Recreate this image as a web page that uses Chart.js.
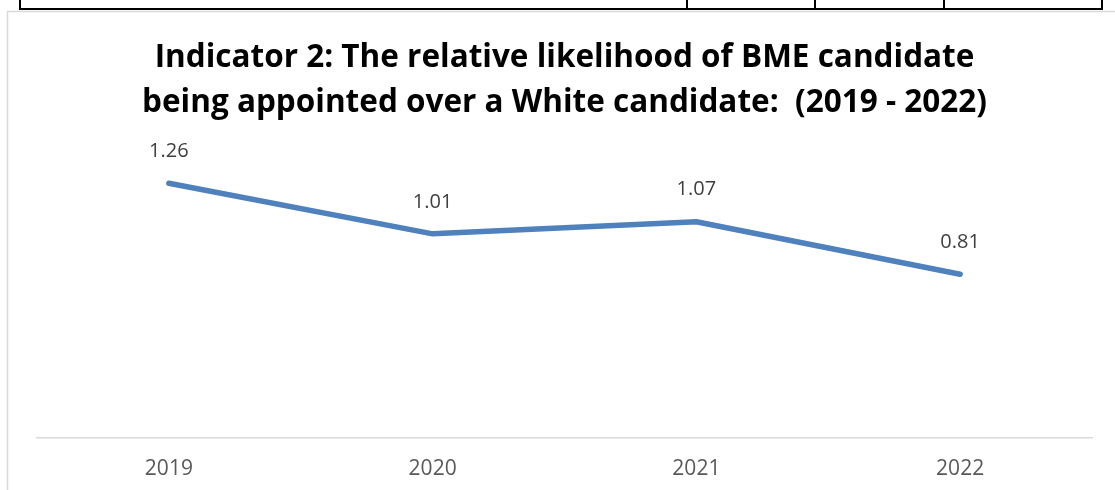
<!DOCTYPE html>
<html>
<head>
<meta charset="utf-8">
<script src="https://cdn.jsdelivr.net/npm/chart.js@4.4.1/dist/chart.umd.min.js"></script>
<style>
  html, body { margin: 0; padding: 0; background: #fff; }
  #wrap { position: relative; width: 1115px; height: 490px; overflow: hidden; }
  canvas { display: block; }
</style>
</head>
<body>
<div id="wrap"><canvas id="chart" width="1115" height="490"></canvas></div>
<script>
const years = ['2019', '2020', '2021', '2022']
const likelihood = [1.26, 1.01, 1.07, 0.81]
const titleLines = [
  'Indicator 2: The relative likelihood of BME candidate',
  'being appointed over a White candidate:  (2019 - 2022)',
]

const LABEL_COLOUR = '#595959'
const LINE_COLOUR = '#4f81bd'
const FONT = '"Open Sans", sans-serif'

// table row above the chart plus the chart's own light border
const framePlugin = {
  id: 'frame',
  beforeDraw(chart) {
    const { ctx } = chart
    ctx.save()
    ctx.strokeStyle = '#d9d9d9'
    ctx.lineWidth = 1.5
    ctx.beginPath()
    ctx.moveTo(7.5, 500)
    ctx.lineTo(7.5, 11.5)
    ctx.lineTo(1120, 11.5)
    ctx.stroke()

    ctx.strokeStyle = '#000'
    ctx.lineWidth = 2
    ctx.beginPath()
    ctx.moveTo(20, -2)
    ctx.lineTo(20, 9)
    ctx.lineTo(1102, 9)
    ctx.lineTo(1102, -2)
    ;[687, 815, 944].forEach((x) => {
      ctx.moveTo(x, -2)
      ctx.lineTo(x, 9)
    })
    ctx.stroke()
    ctx.restore()
  },
}

// value above each point
const valueLabels = {
  id: 'valueLabels',
  afterDatasetsDraw(chart) {
    const { ctx } = chart
    const meta = chart.getDatasetMeta(0)
    ctx.save()
    ctx.fillStyle = '#404040'
    ctx.font = `20px ${FONT}`
    ctx.textAlign = 'center'
    ctx.textBaseline = 'middle'
    meta.data.forEach((pt, i) => {
      ctx.fillText(likelihood[i].toFixed(2), pt.x, pt.y - 32)
    })
    ctx.restore()
  },
}

new Chart(document.getElementById('chart'), {
  type: 'line',
  data: {
    labels: years,
    datasets: [
      {
        data: likelihood,
        borderColor: LINE_COLOUR,
        borderWidth: 5.5,
        pointRadius: 0,
        tension: 0,
        borderCapStyle: 'round',
        borderJoinStyle: 'round',
      },
    ],
  },
  options: {
    responsive: false,
    animation: false,
    layout: {
      padding: { left: 37, right: 23, top: 0, bottom: 0 },
    },
    plugins: {
      legend: { display: false },
      tooltip: { enabled: false },
      title: {
        display: true,
        text: titleLines,
        color: '#000',
        font: { family: FONT, size: 31.5, weight: 'bold', lineHeight: 45 / 31.5 },
        padding: { top: 36, bottom: 29 },
      },
    },
    scales: {
      x: {
        offset: true,
        grid: { display: false, drawTicks: false },
        border: { display: true, color: '#d9d9d9', width: 1.5 },
        ticks: { color: LABEL_COLOUR, font: { family: FONT, size: 21 }, padding: 18 },
        afterFit(scale) { scale.height = 52 },
      },
      y: {
        display: false,
        min: 0,
        max: 1.4,
      },
    },
  },
  plugins: [framePlugin, valueLabels],
})
</script>
</body>
</html>
